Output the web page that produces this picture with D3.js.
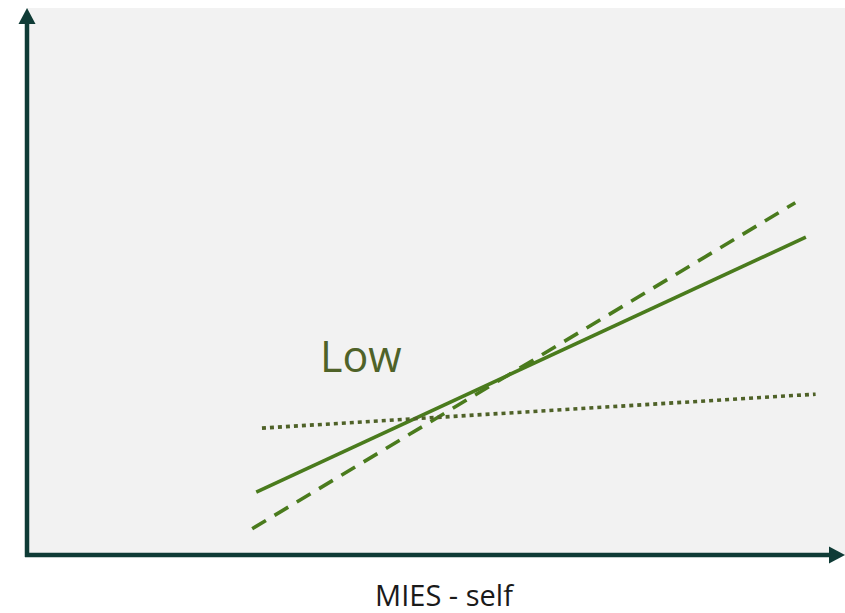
<!DOCTYPE html>
<html><head><meta charset="utf-8">
<script src="https://cdn.jsdelivr.net/npm/d3@7"></script>
<style>html,body{margin:0;padding:0;background:#fff;}svg{display:block;}</style>
</head><body>
<svg id="c" width="845" height="613"></svg>
<script>
// Data (arbitrary units, 0..10 on each axis)
const seriesNames = ["solid", "dashed", "dotted"];
const xStart = [2.82, 2.77, 2.89];
const xEnd   = [9.58, 9.45, 9.70];
const yStart = [1.15, 0.48, 2.32];
const yEnd   = [5.81, 6.44, 2.94];
const annotation = "Low";
const xTitle = "MIES - self";

(function () {
const svg = d3.select("#c");
const mL = 27, mR = 840, mT = 8, mB = 555;
const x = d3.scaleLinear().domain([0, 10]).range([mL, mR]);
const y = d3.scaleLinear().domain([0, 10]).range([mB, mT]);

svg.append("rect").attr("x", mL).attr("y", mT).attr("width", 845 - mL).attr("height", mB - mT).attr("fill", "#f2f2f2");

const styles = {
  solid:  {stroke: "#4a7b1d", width: 3.6, dash: null},
  dashed: {stroke: "#4a7b1d", width: 3.6, dash: "16,10"},
  dotted: {stroke: "#4f6228", width: 3.6, dash: "4,4"}
};
const line = d3.line().x(d => x(d[0])).y(d => y(d[1]));
seriesNames.forEach((n, i) => {
  const s = styles[n];
  svg.append("path")
    .attr("d", line([[xStart[i], yStart[i]], [xEnd[i], yEnd[i]]]))
    .attr("fill", "none").attr("stroke", s.stroke).attr("stroke-width", s.width)
    .attr("stroke-dasharray", s.dash).attr("stroke-linecap", "butt");
});

const axisColor = "#0f3b36";
svg.append("line").attr("x1", mL).attr("x2", mL).attr("y1", mB + 2).attr("y2", mT + 14)
  .attr("stroke", axisColor).attr("stroke-width", 4.5);
svg.append("path").attr("d", `M${mL},${mT} L${mL + 8.5},${mT + 16} L${mL - 8.5},${mT + 16} Z`).attr("fill", axisColor);
svg.append("line").attr("x1", mL - 2).attr("x2", 835).attr("y1", mB).attr("y2", mB)
  .attr("stroke", axisColor).attr("stroke-width", 4.5);
svg.append("path").attr("d", `M845,${mB} L829,${mB + 8.5} L829,${mB - 8.5} Z`).attr("fill", axisColor);

svg.append("text").attr("x", 320).attr("y", 372).attr("font-family", "Open Sans, sans-serif")
  .attr("font-size", 43).attr("fill", "#4f6228").text(annotation);

svg.append("text").attr("x", 444).attr("y", 606).attr("text-anchor", "middle")
  .attr("font-family", "Open Sans, sans-serif").attr("font-size", 29).attr("fill", "#1a1a1a").text(xTitle);
})();
</script>
</body></html>
